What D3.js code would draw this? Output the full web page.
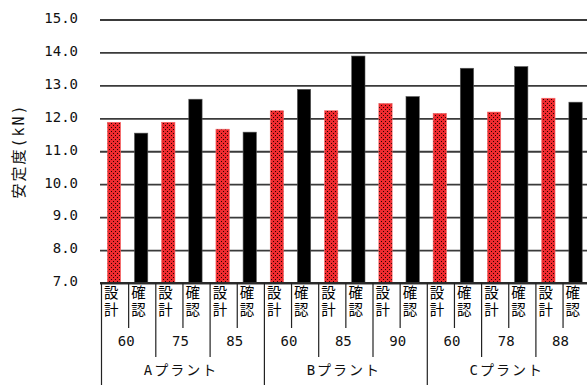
<!DOCTYPE html>
<html>
<head>
<meta charset="utf-8">
<script src="https://cdn.jsdelivr.net/npm/d3@7"></script>
<style>
  html, body { margin: 0; padding: 0; background: #fff; }
  svg { display: block; }
</style>
</head>
<body>
<svg id="chart" width="587" height="385"></svg>
<script>
// Plants and the sizes tested at each plant
const plants = ["Aプラント", "Bプラント", "Cプラント"];
const sizes = [["60", "75", "85"], ["60", "85", "90"], ["60", "78", "88"]];
const kinds = ["設計", "確認"];

// Stability (kN): design value and confirmed value for each plant/size pair
const designValues  = [11.88, 11.88, 11.67, 12.23, 12.23, 12.45, 12.15, 12.19, 12.61];
const confirmValues = [11.55, 12.58, 11.58, 12.88, 13.89, 12.66, 13.52, 13.57, 12.49];

const yTicks = [7, 8, 9, 10, 11, 12, 13, 14, 15];
const yTitle = "安定度(kN)";

const monoFont = "'DejaVu Sans Mono', 'Noto Sans CJK JP', monospace";
const cjkFont = "'Noto Sans CJK JP', 'DejaVu Sans', sans-serif";

// One slot per bar: plant / size / kind
const slots = [];
plants.forEach((p, pi) => {
  sizes[pi].forEach((s, si) => {
    const idx = pi * 3 + si;
    slots.push({ plant: p, size: s, kind: kinds[0], value: designValues[idx], key: `${pi}-${si}-0` });
    slots.push({ plant: p, size: s, kind: kinds[1], value: confirmValues[idx], key: `${pi}-${si}-1` });
  });
});

const svg = d3.select("#chart");
const plotLeft = 101.5, plotRight = 590.2, plotTop = 19.5, plotBase = 283;

const x = d3.scaleBand().domain(slots.map(d => d.key)).range([plotLeft, plotRight]).padding(0);
const y = d3.scaleLinear().domain([7, 15]).range([plotBase, plotTop]);
const bw = x.bandwidth();

// Dotted red fill for design bars
const defs = svg.append("defs");
const pat = defs.append("pattern")
  .attr("id", "dots").attr("patternUnits", "userSpaceOnUse")
  .attr("width", 4).attr("height", 4);
pat.append("rect").attr("width", 4).attr("height", 4).attr("fill", "#ef2b2f");
pat.append("rect").attr("x", 1).attr("y", 1).attr("width", 1).attr("height", 1).attr("fill", "#2a0000");
pat.append("rect").attr("x", 3).attr("y", 3).attr("width", 1).attr("height", 1).attr("fill", "#2a0000");

// Horizontal gridlines with value labels
const yAxis = d3.axisLeft(y)
  .tickValues(yTicks)
  .tickFormat(d3.format(".1f"))
  .tickSizeInner(-(plotRight - plotLeft + 1.5))
  .tickSizeOuter(0)
  .tickPadding(22);

const gy = svg.append("g").attr("transform", `translate(${plotLeft - 1.5},0)`).call(yAxis);
gy.select(".domain").remove();
gy.selectAll(".tick line").attr("stroke", "#3a3a3a").attr("stroke-width", 1.8);
gy.selectAll(".tick text")
  .attr("font-family", monoFont).attr("font-size", 14)
  .attr("fill", "#111").attr("dy", "0.2em");

// Bars
svg.append("g").selectAll("rect").data(slots).join("rect")
  .attr("x", d => x(d.key) + bw * 0.215)
  .attr("width", bw * 0.49)
  .attr("y", d => y(d.value))
  .attr("height", d => y(7) - y(d.value))
  .attr("fill", d => d.kind === kinds[0] ? "url(#dots)" : "#000")
  .attr("stroke", d => d.kind === kinds[0] ? "#f36a6a" : "#555")
  .attr("stroke-width", 0.6);

// Redraw baseline over the bars
svg.append("line")
  .attr("x1", plotLeft - 1.5).attr("x2", plotRight)
  .attr("y1", y(7)).attr("y2", y(7))
  .attr("stroke", "#2a2a2a").attr("stroke-width", 1.8);

// Category table below the axis
const table = svg.append("g");
const bounds = d3.range(slots.length + 1);
table.selectAll("line.sep").data(bounds).join("line")
  .attr("class", "sep")
  .attr("x1", i => plotLeft + i * bw).attr("x2", i => plotLeft + i * bw)
  .attr("y1", plotBase)
  .attr("y2", i => i % 6 === 0 ? 385 : (i % 2 === 0 ? 357 : 328))
  .attr("stroke", "#222").attr("stroke-width", 1.2);

// Kind labels, written top to bottom
table.selectAll("text.kind").data(slots).join("text")
  .attr("class", "kind")
  .attr("x", d => x(d.key) + 9.8)
  .attr("y", 285)
  .style("writing-mode", "vertical-rl")
  .attr("letter-spacing", 2.5)
  .attr("font-family", cjkFont).attr("font-size", 14.5)
  .attr("fill", "#000")
  .text(d => d.kind);

// Size labels
const pairs = slots.filter((d, i) => i % 2 === 0);
table.selectAll("text.size").data(pairs).join("text")
  .attr("class", "size")
  .attr("x", d => x(d.key) + bw - 2.5)
  .attr("y", 346)
  .attr("text-anchor", "middle")
  .attr("font-family", monoFont).attr("font-size", 14)
  .attr("fill", "#111")
  .text(d => d.size);

// Plant labels
table.selectAll("text.plant").data(plants).join("text")
  .attr("class", "plant")
  .attr("x", (p, i) => plotLeft + (i * 6 + 3) * bw - 2)
  .attr("y", 375)
  .attr("text-anchor", "middle")
  .attr("font-family", monoFont).attr("font-size", 14)
  .attr("letter-spacing", 2)
  .attr("fill", "#111")
  .text(p => p);

// Vertical axis title
svg.append("text")
  .attr("transform", "translate(19,151) rotate(-90)")
  .attr("text-anchor", "middle")
  .attr("dominant-baseline", "central")
  .attr("font-family", monoFont).attr("font-size", 15)
  .attr("letter-spacing", 2)
  .attr("fill", "#111")
  .text(yTitle);
</script>
</body>
</html>
